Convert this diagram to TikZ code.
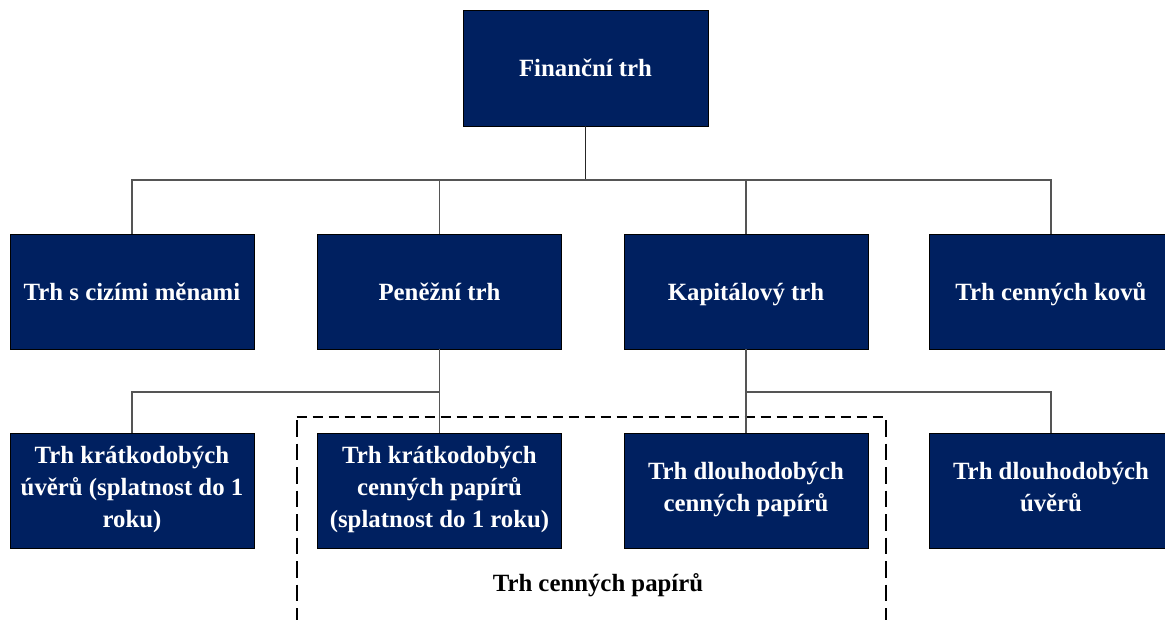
\documentclass[tikz,border=0pt]{standalone}
\usepackage{fontspec}
\setmainfont{Liberation Serif}
\definecolor{navy}{HTML}{002060}
\definecolor{connc}{HTML}{555555}
\newcommand\mybxstrut{\rule[-7pt]{0pt}{31pt}}
\begin{document}
\begin{tikzpicture}[x=1pt,y=-1pt,
  box/.style={draw=black, line width=0.9pt, fill=navy, text=white,
    font=\fontsize{24.8}{31.7}\selectfont\bfseries, align=center,
    minimum width=244pt, minimum height=115pt, inner sep=0pt,
    execute at begin node=\mybxstrut, execute at end node=\mybxstrut},
  conn/.style={draw=connc, line width=1.1pt},
  topconn/.style={draw=black!85, line width=1.8pt},
  grouph/.style={draw=black, line width=2pt, dash pattern=on 10.7pt off 5.3pt},
  groupv/.style={draw=black, line width=2pt, dash pattern=on 16.5pt off 7pt},
  grouplabel/.style={font=\fontsize{24.8}{30}\selectfont\bfseries, text=black, inner sep=0pt}]
\useasboundingbox (0,0) rectangle (1165,619);

% dashed group frame
\draw[grouph] (296.5,417) -- (886,417);
\draw[groupv] (296.5,420) -- (296.5,630);
\draw[groupv] (886,420) -- (886,630);
\node[grouplabel] (tcp) at (598,585) {Trh cenných papírů};

% nodes
\node[box, minimum width=245pt, minimum height=116pt] (fin) at (585.5,68) {Finanční trh};

\node[box] (ciz) at (132,291.5) {Trh s cizími měnami};
\node[box] (pen) at (439.5,291.5) {Peněžní trh};
\node[box] (kap) at (746,291.5) {Kapitálový trh};
\node[box] (kov) at (1051,291.5) {Trh cenných kovů};

\node[box] (kru) at (132,490.5) {Trh krátkodobých\\úvěrů (splatnost do 1\\roku)};
\node[box] (kcp) at (439.5,490.5) {Trh krátkodobých\\cenných papírů\\(splatnost do 1 roku)};
\node[box] (dcp) at (746,490.5) {Trh dlouhodobých\\cenných papírů};
\node[box] (dku) at (1051,490.5) {Trh dlouhodobých\\úvěrů};

% connectors
\coordinate (j1) at (585.5,180);
\coordinate (j2) at (439.5,392);
\coordinate (j3) at (746,392);
\draw[topconn] (fin.south) -- (j1);
\draw[conn] (ciz.north) |- (j1) -| (kov.north);
\draw[conn] (pen.north) -- (pen.north |- j1);
\draw[conn] (kap.north) -- (kap.north |- j1);

\draw[conn] (pen.south) -- (kcp.north);
\draw[conn] (kru.north) |- (j2);
\draw[conn] (kap.south) -- (dcp.north);
\draw[conn] (j3) -| (dku.north);
\end{tikzpicture}
\end{document}
